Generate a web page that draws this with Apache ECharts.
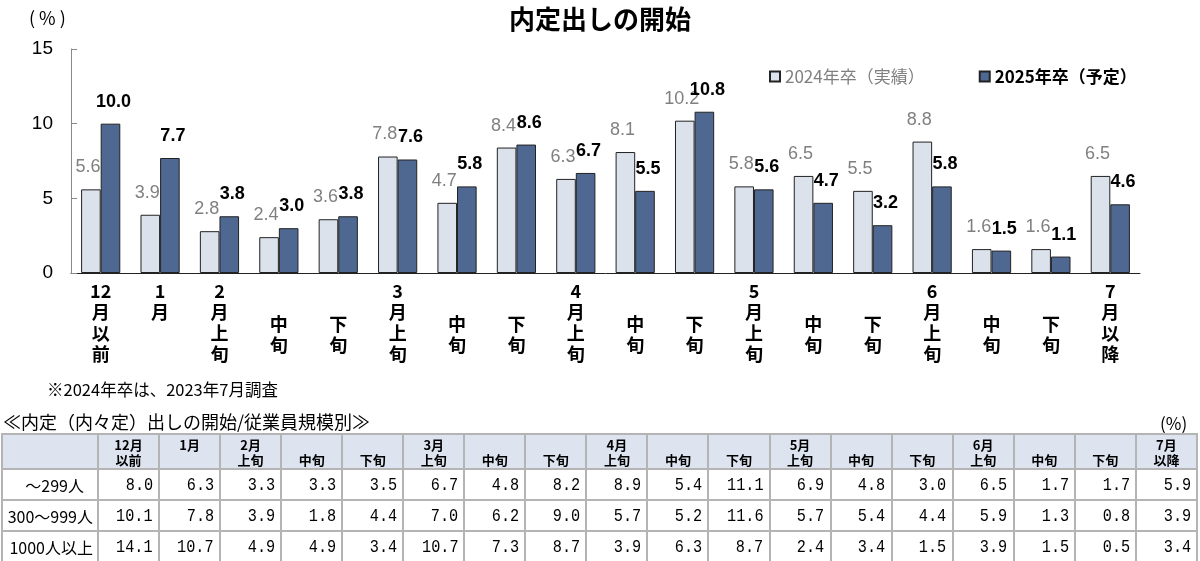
<!DOCTYPE html>
<html><head><meta charset="utf-8">
<script src="https://cdn.jsdelivr.net/npm/echarts@6/dist/echarts.min.js"></script>
<style>
html,body{margin:0;padding:0;background:#fff;}
#chart{position:absolute;left:0;top:0;width:1200px;height:561px;}
.ov{position:absolute;font-family:"Noto Sans CJK JP",sans-serif;color:#000;white-space:nowrap;line-height:1;}
#note{left:47px;top:381px;font-size:16.5px;}
#ttitle{left:3px;top:412px;font-size:18px;}
#unit{left:1160px;top:414px;font-size:17px;}
#tbl{position:absolute;left:1px;top:433px;border-collapse:collapse;table-layout:fixed;width:1197px;}
#tbl td{border:2px solid #b4b4b4;padding:0;overflow:hidden;white-space:nowrap;}
#tbl tr.h td{background:#dde4ef;height:32px;font:bold 13px/15px "Noto Sans CJK JP",sans-serif;text-align:center;vertical-align:bottom;padding-bottom:1px;}
#tbl tr.d td{height:29px;text-align:right;vertical-align:middle;}
#tbl td.lab{font:16px "Noto Sans CJK JP",sans-serif;padding-right:4px;}
#tbl tr.d.r0 td.lab{padding-right:13px;}
#tbl td.num{font:19px "Liberation Mono",monospace;padding-right:5px;}
#tbl td.num span{display:inline-block;transform:scaleX(0.8);transform-origin:right center;}
</style>
</head><body>
<div id="chart"></div>
<div class="ov" id="note">※2024年卒は、2023年7月調査</div>
<div class="ov" id="ttitle">≪内定（内々定）出しの開始/従業員規模別≫</div>
<div class="ov" id="unit">(%)</div>
<table id="tbl"></table>
<script>
// ---- chart data ----
const categories = ['12月以前','1月','2月上旬','2月中旬','2月下旬','3月上旬','3月中旬','3月下旬','4月上旬','4月中旬','4月下旬','5月上旬','5月中旬','5月下旬','6月上旬','6月中旬','6月下旬','7月以降'];
const tickLabels = ['12\n月\n以\n前','1\n月','2\n月\n上\n旬','中\n旬','下\n旬','3\n月\n上\n旬','中\n旬','下\n旬','4\n月\n上\n旬','中\n旬','下\n旬','5\n月\n上\n旬','中\n旬','下\n旬','6\n月\n上\n旬','中\n旬','下\n旬','7\n月\n以\n降'];
const seriesNames = ['2024年卒（実績）','2025年卒（予定）'];
const values2024 = [5.6,3.9,2.8,2.4,3.6,7.8,4.7,8.4,6.3,8.1,10.2,5.8,6.5,5.5,8.8,1.6,1.6,6.5];
const values2025 = [10.0,7.7,3.8,3.0,3.8,7.6,5.8,8.6,6.7,5.5,10.8,5.6,4.7,3.2,5.8,1.5,1.1,4.6];
const yTicks = [0,5,10,15];

// ---- table data ----
const tableHeaders = ['12月\n以前','1月\n','2月\n上旬','中旬','下旬','3月\n上旬','中旬','下旬','4月\n上旬','中旬','下旬','5月\n上旬','中旬','下旬','6月\n上旬','中旬','下旬','7月\n以降'];
const tableRows = ['～299人','300～999人','1000人以上'];
const rowSmall = [8.0,6.3,3.3,3.3,3.5,6.7,4.8,8.2,8.9,5.4,11.1,6.9,4.8,3.0,6.5,1.7,1.7,5.9];
const rowMid = [10.1,7.8,3.9,1.8,4.4,7.0,6.2,9.0,5.7,5.2,11.6,5.7,5.4,4.4,5.9,1.3,0.8,3.9];
const rowLarge = [14.1,10.7,4.9,4.9,3.4,10.7,7.3,8.7,3.9,6.3,8.7,2.4,3.4,1.5,3.9,1.5,0.5,3.4];

// build table
(function(){
  const t = document.getElementById('tbl');
  let html = '<colgroup><col style="width:96px">' + tableHeaders.map(()=>'<col>').join('') + '</colgroup>';
  html += '<tr class="h"><td></td>' + tableHeaders.map(h=>'<td>'+h.replace('\n','<br>')+(h.endsWith('\n')?'&nbsp;':'')+'</td>').join('') + '</tr>';
  [rowSmall,rowMid,rowLarge].forEach((r,i)=>{
    html += '<tr class="d r'+i+'"><td class="lab">'+tableRows[i]+'</td>' + r.map(v=>'<td class="num"><span>'+v.toFixed(1)+'</span></td>').join('') + '</tr>';
  });
  t.innerHTML = html;
})();

const chart = echarts.init(document.getElementById('chart'), null, {renderer:'canvas'});
const numFont = '"Liberation Sans", Arial, sans-serif';
const jpFont = '"Noto Sans CJK JP", sans-serif';
chart.setOption({
  animation:false,
  title:{text:'内定出しの開始', left:'center', top:1, textStyle:{fontSize:26, fontWeight:'bold', fontFamily:jpFont, color:'#000'}},
  graphic:[{type:'text', left:29, top:9, style:{text:'( % )', font:'18px "Noto Sans CJK JP"', fill:'#000'}}],
  legend:{left:764, top:63, itemWidth:10, itemHeight:10, itemGap:54, icon:'rect',
    data:[{name:seriesNames[0], textStyle:{color:'#7f7f7f', fontWeight:'normal'}},{name:seriesNames[1], textStyle:{color:'#000', fontWeight:'bold'}}],
    textStyle:{fontSize:17, fontFamily:jpFont}},
  grid:{left:71, right:60, top:49, bottom:288},
  xAxis:{type:'category', data:categories,
    axisLine:{lineStyle:{color:'#222', width:1}},
    axisTick:{inside:true, length:5, lineStyle:{color:'#444'}},
    axisLabel:{interval:0, margin:8, fontSize:18, lineHeight:21, color:'#000', fontFamily:jpFont, fontWeight:'bold',
      formatter:(v,i)=>{const s=tickLabels[i]; return s.length<=3 && /旬/.test(s) ? '{sp| }\n'+s : s;},
      rich:{sp:{height:33, lineHeight:33, fontSize:8}}}},
  yAxis:{type:'value', min:0, max:15, interval:5,
    axisLine:{show:true, lineStyle:{color:'#888'}},
    axisTick:{show:true, inside:true, length:6, lineStyle:{color:'#888'}},
    splitLine:{show:false},
    axisLabel:{margin:18, fontSize:19, color:'#000', fontFamily:numFont, formatter:v=>yTicks.includes(v)?String(v):''}},
  series:[
    {name:seriesNames[0], type:'bar', data:values2024, barGap:'0%', barCategoryGap:'34%',
      itemStyle:{color:'#dbe2ec', borderColor:'#222', borderWidth:1},
      label:{show:true, position:'top', distance:13, offset:[-3,0], color:'#808080', fontSize:18, fontFamily:numFont, formatter:p=>p.value.toFixed(1)}},
    {name:seriesNames[1], type:'bar', data:values2025,
      itemStyle:{color:'#4f6892', borderColor:'#222', borderWidth:1},
      label:{show:true, position:'top', distance:13, offset:[3,0], color:'#000', fontSize:18, fontWeight:'bold', fontFamily:numFont, formatter:p=>p.value.toFixed(1)}}
  ]
});
</script>
</body></html>
